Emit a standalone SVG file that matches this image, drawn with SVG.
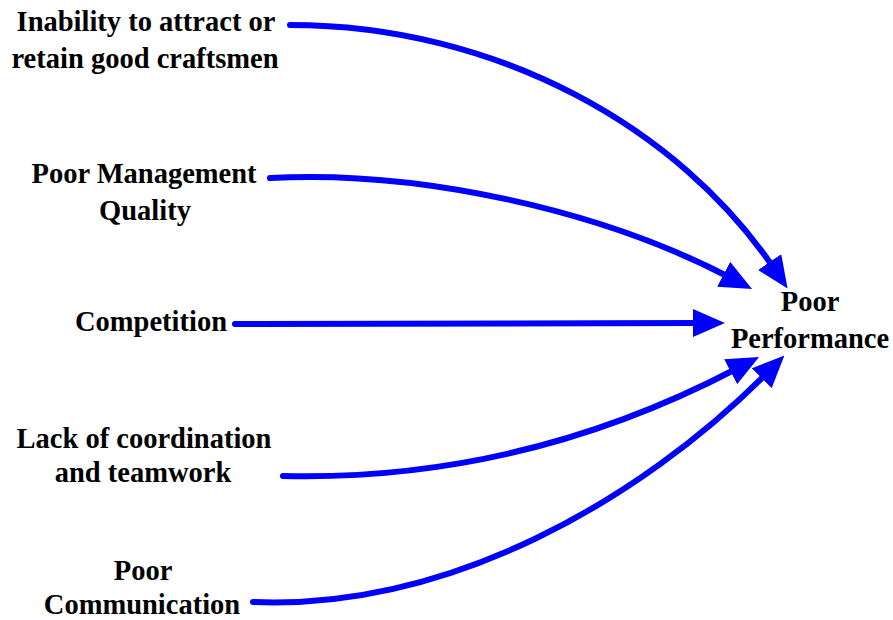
<svg xmlns="http://www.w3.org/2000/svg" width="893" height="620" viewBox="0 0 893 620">
<style>
.t{font-family:"Liberation Serif","Times New Roman",serif;font-weight:bold;font-size:28.5px;fill:#000;text-anchor:middle}
.c{fill:none;stroke:#0000FF;stroke-width:6;stroke-linecap:round}
</style>
<defs>
<marker id="ah" markerUnits="userSpaceOnUse" viewBox="0 0 32 28" markerWidth="32" markerHeight="28" refX="6" refY="14" orient="auto">
<path d="M0,0 L32,14 L0,28 z" fill="#0000FF"/>
</marker>
</defs>
<rect width="893" height="620" fill="#fff"/>
<g id="connectors">
<path class="c" marker-end="url(#ah)" d="M290,25 C500,25 680,130 773,267"/>
<path class="c" marker-end="url(#ah)" d="M270,178 C420,170 600,210 729,277"/>
<path class="c" marker-end="url(#ah)" d="M235,324 L699,323"/>
<path class="c" marker-end="url(#ah)" d="M283,476 C450,480 600,440 736,369"/>
<path class="c" marker-end="url(#ah)" d="M253,602 C450,610 640,500 766,374"/>
</g>
<g id="n1"><text class="t" x="146" y="31">Inability to attract or</text><text class="t" x="145" y="68">retain good craftsmen</text></g>
<g id="n2"><text class="t" x="144" y="183">Poor Management</text><text class="t" x="145" y="220">Quality</text></g>
<g id="n3"><text class="t" x="151" y="331">Competition</text></g>
<g id="n4"><text class="t" x="144" y="448">Lack of coordination</text><text class="t" x="143" y="482">and teamwork</text></g>
<g id="n5"><text class="t" x="143" y="580">Poor</text><text class="t" x="142" y="614">Communication</text></g>
<g id="n6"><text class="t" x="810" y="311">Poor</text><text class="t" x="810" y="348">Performance</text></g>
</svg>
